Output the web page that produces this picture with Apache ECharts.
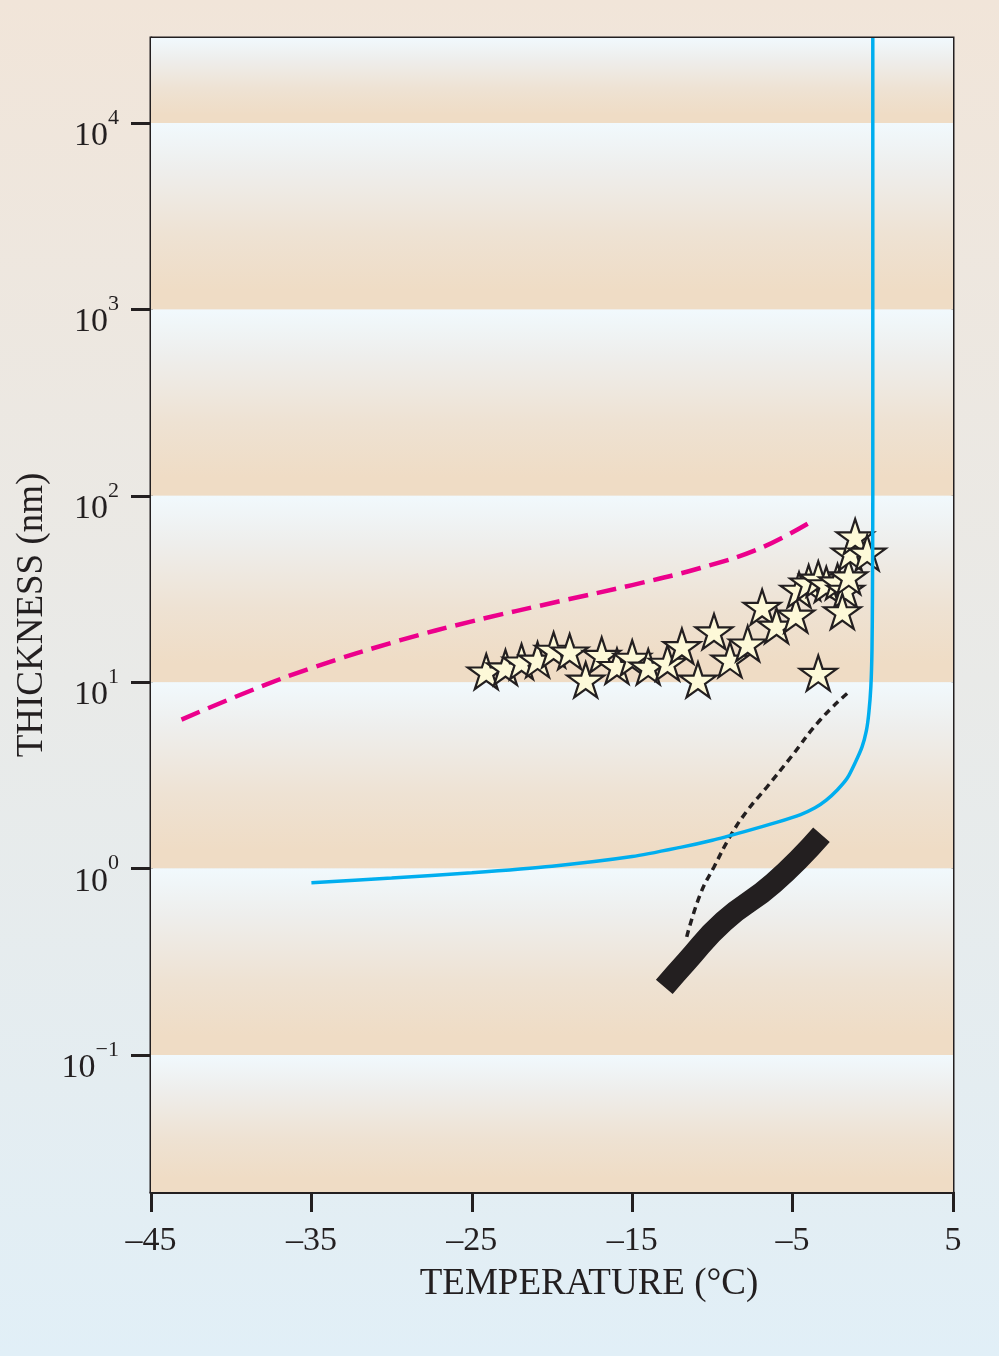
<!DOCTYPE html>
<html>
<head>
<meta charset="utf-8">
<script src="https://cdn.jsdelivr.net/npm/echarts@6/dist/echarts.min.js"></script>
<style>
    html, body { margin: 0; padding: 0; }
    body { background: linear-gradient(#f1e5d9, #e1eff7); }
    #main { width: 999px; height: 1356px; }
</style>
</head>
<body>
<div id="main"></div>
<script>
(function () {
    // axis ticks
    var tempTicks = [-45, -35, -25, -15, -5, 5];
    var thickTicks = [0.1, 1, 10, 100, 1000, 10000];
    var yMin = 0.0184, yMax = 28600;

    // measured thickness (stars)
    var starTemp = [-24.1, -22.9, -21.9, -20.9, -19.9, -18.9, -17.9, -16.9, -15.95, -15.0,
        -14.0, -12.8, -11.9, -10.9, -9.9, -8.9, -7.8, -6.9, -6.0, -4.8,
        -4.6, -4.0, -3.4, -2.9, -2.2, -1.7, -1.9, -1.5, -1.4, -1.1, -0.35, -3.4];
    var starThick = [11.4, 12.0, 12.9, 13.2, 14.9, 14.6, 10.3, 14.0, 12.2, 13.5,
        12.1, 12.7, 15.6, 10.3, 18.7, 13.2, 16.1, 25.3, 20.1, 23.0,
        31.3, 34.2, 35.9, 33.5, 34.7, 31.3, 24.0, 36.9, 49.5, 60.5, 49.5, 11.2];

    // cyan curve
    var cyanTemp = [-35, -30, -25, -20, -15, -12, -10, -8, -6, -4.5, -3.6, -2.9, -2.2, -1.6,
        -1.1, -0.67, -0.4, -0.25, -0.12, -0.05, -0.02, 0, 0];
    var cyanThick = [0.84, 0.89, 0.95, 1.03, 1.16, 1.3, 1.42, 1.58, 1.77, 1.95, 2.12, 2.33, 2.65, 3.05,
        3.7, 4.5, 5.5, 6.8, 9.5, 15, 30, 100, 28600];

    // magenta dashed curve
    var pinkTemp = [-43.1, -38.8, -34.9, -29.5, -25.0, -19.5, -15.0, -10.75, -7.0, -3.8];
    var pinkThick = [6.3, 9.0, 12.0, 16.75, 21.2, 27.2, 33.2, 41.0, 52.4, 73];

    // black dotted curve
    var dotTemp = [-11.6, -10.75, -9.9, -8.85, -7.8, -6.6, -5.1, -3.3, -1.6];
    var dotThick = [0.43, 0.73, 1.02, 1.51, 2.06, 2.74, 3.97, 6.25, 8.7];

    // thick black band
    var bandTemp = [-13.0, -11.6, -9.3, -6.2, -3.2];
    var bandThick = [0.232, 0.318, 0.52, 0.834, 1.52];

    var ink = '#231f20';
    var serif = 'Liberation Serif';
    var starPath = 'path://M50 0 L61.23 34.55 L97.55 34.55 L68.16 55.9 L79.39 90.45 L50 69.1 L20.61 90.45 L31.84 55.9 L2.45 34.55 L38.77 34.55 Z';

    function zip(xs, ys) {
        return xs.map(function (x, i) { return [x, ys[i]]; });
    }

    function band(from, to) {
        return [{
            yAxis: from,
            itemStyle: {
                color: new echarts.graphic.LinearGradient(0, 0, 0, 1, [
                    { offset: 0, color: '#f1f9fd' },
                    { offset: 0.25, color: '#eeeeec' },
                    { offset: 0.6, color: '#eee2d3' },
                    { offset: 0.9, color: '#efdcc5' },
                    { offset: 1, color: '#efdcc5' }
                ])
            }
        }, { yAxis: to }];
    }

    var bands = [band(yMax, 10000)];
    for (var e = 4; e > -1; e--) {
        bands.push(band(Math.pow(10, e), Math.pow(10, e - 1)));
    }
    bands.push(band(0.1, yMin));

    var myChart = echarts.init(document.getElementById('main'));
    var option = {
        backgroundColor: 'transparent',
        animation: false,
        grid: {
            left: 151, right: 46, top: 38, bottom: 164,
            show: true,
            borderColor: ink,
            borderWidth: 3,
            backgroundColor: 'transparent'
        },
        xAxis: {
            type: 'value',
            min: -45,
            max: 5,
            interval: 5,
            name: 'TEMPERATURE (°C)',
            nameLocation: 'middle',
            nameGap: 74,
            nameTextStyle: {
                fontFamily: serif, fontSize: 37, color: ink,
                padding: [0, 0, 0, 74]
            },
            axisLine: { show: true, onZero: false, lineStyle: { color: ink, width: 3 } },
            axisTick: {
                show: true, inside: false, length: 20,
                customValues: tempTicks,
                lineStyle: { color: ink, width: 3 }
            },
            axisLabel: {
                customValues: tempTicks,
                margin: 32,
                fontFamily: serif, fontSize: 34, color: ink,
                formatter: function (v) {
                    return v < 0 ? '\u2013' + Math.abs(v) : String(v);
                }
            },
            splitLine: { show: false }
        },
        yAxis: {
            type: 'log',
            logBase: 10,
            min: yMin,
            max: yMax,
            name: 'THICKNESS (nm)',
            nameLocation: 'middle',
            nameGap: 97,
            nameTextStyle: { fontFamily: serif, fontSize: 37, color: ink },
            axisLine: { show: true, onZero: false, lineStyle: { color: ink, width: 3 } },
            axisTick: {
                show: true, inside: false, length: 20,
                customValues: thickTicks,
                lineStyle: { color: ink, width: 3 }
            },
            axisLabel: {
                customValues: thickTicks,
                margin: 32,
                padding: [14, 0, 0, 0],
                formatter: function (v) {
                    var p = Math.round(Math.log10(v));
                    var s = p < 0 ? '\u2212' + Math.abs(p) : String(p);
                    return '{b|10}{s|' + s + '}';
                },
                rich: {
                    b: {
                        fontFamily: serif, fontSize: 34, color: ink,
                        lineHeight: 46, verticalAlign: 'bottom'
                    },
                    s: {
                        fontFamily: serif, fontSize: 22, color: ink,
                        lineHeight: 20, verticalAlign: 'top'
                    }
                }
            },
            splitLine: { show: false }
        },
        series: [
            {
                // background bands
                type: 'line',
                data: [],
                silent: true,
                z: 0,
                markArea: { silent: true, data: bands }
            },
            {
                type: 'line',
                data: zip(pinkTemp, pinkThick),
                smooth: 0.4,
                showSymbol: false,
                z: 3,
                lineStyle: { color: '#ec008c', width: 4.5, type: [20, 9] }
            },
            {
                type: 'line',
                data: zip(dotTemp, dotThick),
                smooth: true,
                showSymbol: false,
                z: 3,
                lineStyle: { color: ink, width: 3.5, type: [7, 5] }
            },
            {
                type: 'line',
                data: zip(bandTemp, bandThick),
                smooth: true,
                showSymbol: false,
                z: 3,
                lineStyle: { color: ink, width: 22, cap: 'butt', join: 'round' }
            },
            {
                type: 'scatter',
                data: zip(starTemp, starThick),
                symbol: starPath,
                symbolSize: [37, 35],
                z: 4,
                itemStyle: { color: '#fdf9d8', borderColor: ink, borderWidth: 2.2, opacity: 1 }
            },
            {
                type: 'line',
                data: zip(cyanTemp, cyanThick),
                smooth: 0.25,
                showSymbol: false,
                z: 5,
                lineStyle: { color: '#00aeef', width: 3.5 }
            }
        ]
    };
    myChart.setOption(option);
}());
</script>
</body>
</html>
